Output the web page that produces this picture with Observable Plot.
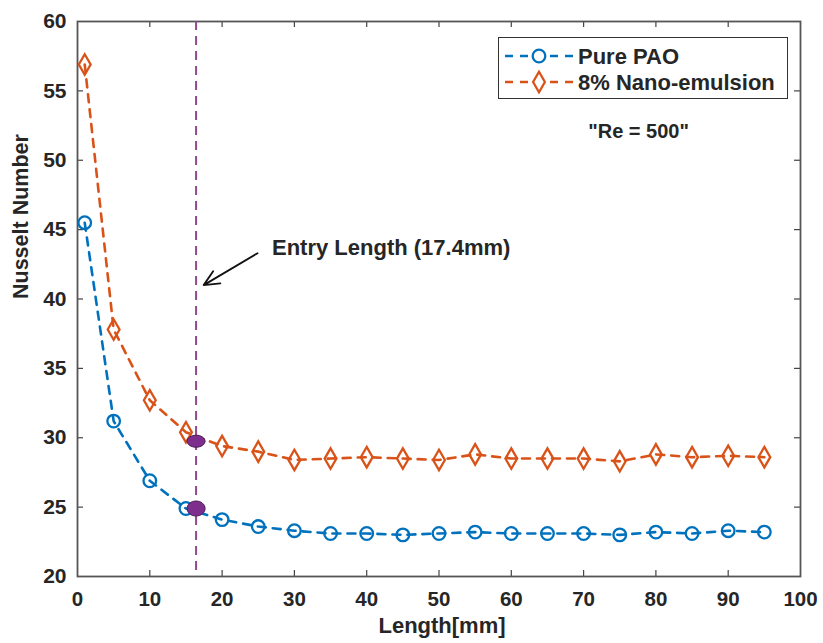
<!DOCTYPE html>
<html>
<head>
<meta charset="utf-8">
<script src="https://cdn.jsdelivr.net/npm/d3@7"></script>
<script src="https://cdn.jsdelivr.net/npm/@observablehq/plot@0.6"></script>
<style>
  body { margin: 0; background: white; }
  #wrap { position: relative; width: 823px; height: 643px; font-family: "Liberation Sans", Arial, sans-serif; }
  #legend { position: absolute; left: 498px; top: 37px; width: 290px; height: 62px; border: 1.5px solid #333; background: white; box-sizing: border-box; }
</style>
</head>
<body>
<div id="wrap"></div>
<script>
// ---- data ----
const lengths = [1, 5, 10, 15, 20, 25, 30, 35, 40, 45, 50, 55, 60, 65, 70, 75, 80, 85, 90, 95];
const purePAO = [45.5, 31.2, 26.9, 24.9, 24.1, 23.6, 23.3, 23.1, 23.1, 23.0, 23.1, 23.2, 23.1, 23.1, 23.1, 23.0, 23.2, 23.1, 23.3, 23.2];
const nanoEmulsion = [56.9, 37.8, 32.7, 30.4, 29.4, 29.0, 28.4, 28.5, 28.6, 28.5, 28.4, 28.8, 28.5, 28.5, 28.5, 28.3, 28.8, 28.6, 28.7, 28.6];
const seriesNames = ["Pure PAO", "8% Nano-emulsion"];
const xTicks = [0, 10, 20, 30, 40, 50, 60, 70, 80, 90, 100];
const yTicks = [20, 25, 30, 35, 40, 45, 50, 55, 60];
const entryX = 16.4;
const entryPoints = [29.75, 24.9];
const annotationText = "Entry Length (17.4mm)";
const annotationPos = [26.9, 43.65];
const arrowFrom = [24.9, 43.3];
const arrowTo = [17.45, 41.0];
const reText = '"Re = 500"';
const rePos = [77.6, 52.1];

const blue = "#0072BD", orange = "#D95319", purple = "#7E2F8E", ink = "#262626";

const paoData = lengths.map((x, i) => ({x, y: purePAO[i]}));
const nanoData = lengths.map((x, i) => ({x, y: nanoEmulsion[i]}));

function ellipseSymbol(rx, ry) {
  return {draw(ctx) {
    const k = 0.5523;
    ctx.moveTo(rx, 0);
    ctx.bezierCurveTo(rx, k * ry, k * rx, ry, 0, ry);
    ctx.bezierCurveTo(-k * rx, ry, -rx, k * ry, -rx, 0);
    ctx.bezierCurveTo(-rx, -k * ry, -k * rx, -ry, 0, -ry);
    ctx.bezierCurveTo(k * rx, -ry, rx, -k * ry, rx, 0);
    ctx.closePath();
  }};
}

const bold = {fontWeight: "bold", fill: ink};

const chart = Plot.plot({
  width: 823,
  height: 643,
  marginLeft: 77,
  marginRight: 23,
  marginTop: 21,
  marginBottom: 67,
  style: {fontFamily: '"Liberation Sans", Arial, sans-serif', fontWeight: "bold", color: ink, background: "white"},
  x: {domain: [0, 100]},
  y: {domain: [20, 60]},
  marks: [
    Plot.axisX({ticks: xTicks, tickSize: 0, tickPadding: 15, label: null, fontSize: 20.5, ...bold}),
    Plot.axisY({ticks: yTicks, tickSize: 0, tickPadding: 11, label: null, fontSize: 21, ...bold}),
    // inward ticks (bottom/top/left/right)
    Plot.ruleX(xTicks.slice(1, -1), {x: d => d, y1: 20, y2: 20 + 6 / 13.875, stroke: "#444", strokeWidth: 1.2}),
    Plot.ruleX(xTicks.slice(1, -1), {x: d => d, y1: 60, y2: 60 - 6 / 13.875, stroke: "#444", strokeWidth: 1.2}),
    Plot.ruleY(yTicks.slice(1, -1), {y: d => d, x1: 0, x2: 6 / 7.22, stroke: "#444", strokeWidth: 1.2}),
    Plot.ruleY(yTicks.slice(1, -1), {y: d => d, x1: 100, x2: 100 - 6 / 7.22, stroke: "#444", strokeWidth: 1.2}),
    Plot.frame({stroke: "#555", strokeWidth: 1.8}),
    Plot.text(["Nusselt Number"], {frameAnchor: "left", dx: -56, rotate: -90, fontSize: 21.5, ...bold}),
    Plot.text(["Length[mm]"], {frameAnchor: "bottom", dy: 56, dx: 3, fontSize: 22, ...bold}),
    // entry length line
    Plot.ruleX([entryX], {x: d => d, stroke: "#8e4a8c", strokeWidth: 2, strokeDasharray: "9,6"}),
    // series
    Plot.line(paoData, {x: "x", y: "y", stroke: blue, strokeWidth: 2.6, strokeDasharray: "8,7"}),
    Plot.line(nanoData, {x: "x", y: "y", stroke: orange, strokeWidth: 2.6, strokeDasharray: "8,7"}),
    Plot.dot(paoData, {x: "x", y: "y", symbol: "circle", r: 6.3, stroke: blue, strokeWidth: 2.3, fill: "none"}),
    Plot.dot(nanoData, {x: "x", y: "y", symbol: "diamond", r: 6.2, stroke: orange, strokeWidth: 2.3, fill: "none"}),
    // entry points
    Plot.dot([entryPoints[0]], {x: () => entryX, y: d => d, symbol: ellipseSymbol(9, 6), fill: purple, stroke: "#4a1a55", strokeWidth: 1}),
    Plot.dot([entryPoints[1]], {x: () => entryX, y: d => d, symbol: ellipseSymbol(9, 7.5), fill: purple, stroke: "#4a1a55", strokeWidth: 1}),
    // annotations
    Plot.arrow([0], {x1: () => arrowFrom[0], y1: () => arrowFrom[1], x2: () => arrowTo[0], y2: () => arrowTo[1], stroke: "#111", strokeWidth: 1.8, headLength: 14, headAngle: 50}),
    Plot.text([annotationText], {x: () => annotationPos[0], y: () => annotationPos[1], textAnchor: "start", text: d => d, fontSize: 22, ...bold}),
    Plot.text([reText], {x: () => rePos[0], y: () => rePos[1], text: d => d, fontSize: 20, ...bold})
  ]
});

const wrap = document.getElementById("wrap");
wrap.appendChild(chart);

// legend
const legend = document.createElement("div");
legend.id = "legend";
const ns = "http://www.w3.org/2000/svg";
const lsvg = document.createElementNS(ns, "svg");
lsvg.setAttribute("width", 287);
lsvg.setAttribute("height", 59);
const rows = [
  {name: seriesNames[0], color: blue, sym: "circle", cy: 18},
  {name: seriesNames[1], color: orange, sym: "diamond", cy: 44}
];
for (const r of rows) {
  const line = document.createElementNS(ns, "line");
  line.setAttribute("x1", 6); line.setAttribute("x2", 74);
  line.setAttribute("y1", r.cy); line.setAttribute("y2", r.cy);
  line.setAttribute("stroke", r.color); line.setAttribute("stroke-width", 2.6);
  line.setAttribute("stroke-dasharray", "8,7");
  lsvg.appendChild(line);
  const p = document.createElementNS(ns, "path");
  const symbol = r.sym === "circle" ? d3.symbolCircle : d3.symbolDiamond;
  const rr = r.sym === "circle" ? 6.3 : 6.2;
  p.setAttribute("d", d3.symbol(symbol, Math.PI * rr * rr)());
  p.setAttribute("transform", `translate(40,${r.cy})`);
  p.setAttribute("fill", "white"); p.setAttribute("stroke", r.color); p.setAttribute("stroke-width", 2.3);
  lsvg.appendChild(p);
  const t = document.createElementNS(ns, "text");
  t.setAttribute("x", 79); t.setAttribute("y", r.cy);
  t.setAttribute("dy", "0.35em");
  t.setAttribute("font-size", 22); t.setAttribute("font-weight", "bold");
  t.setAttribute("font-family", '"Liberation Sans", Arial, sans-serif');
  t.setAttribute("fill", ink);
  t.textContent = r.name;
  lsvg.appendChild(t);
}
legend.appendChild(lsvg);
wrap.appendChild(legend);
</script>
</body>
</html>
